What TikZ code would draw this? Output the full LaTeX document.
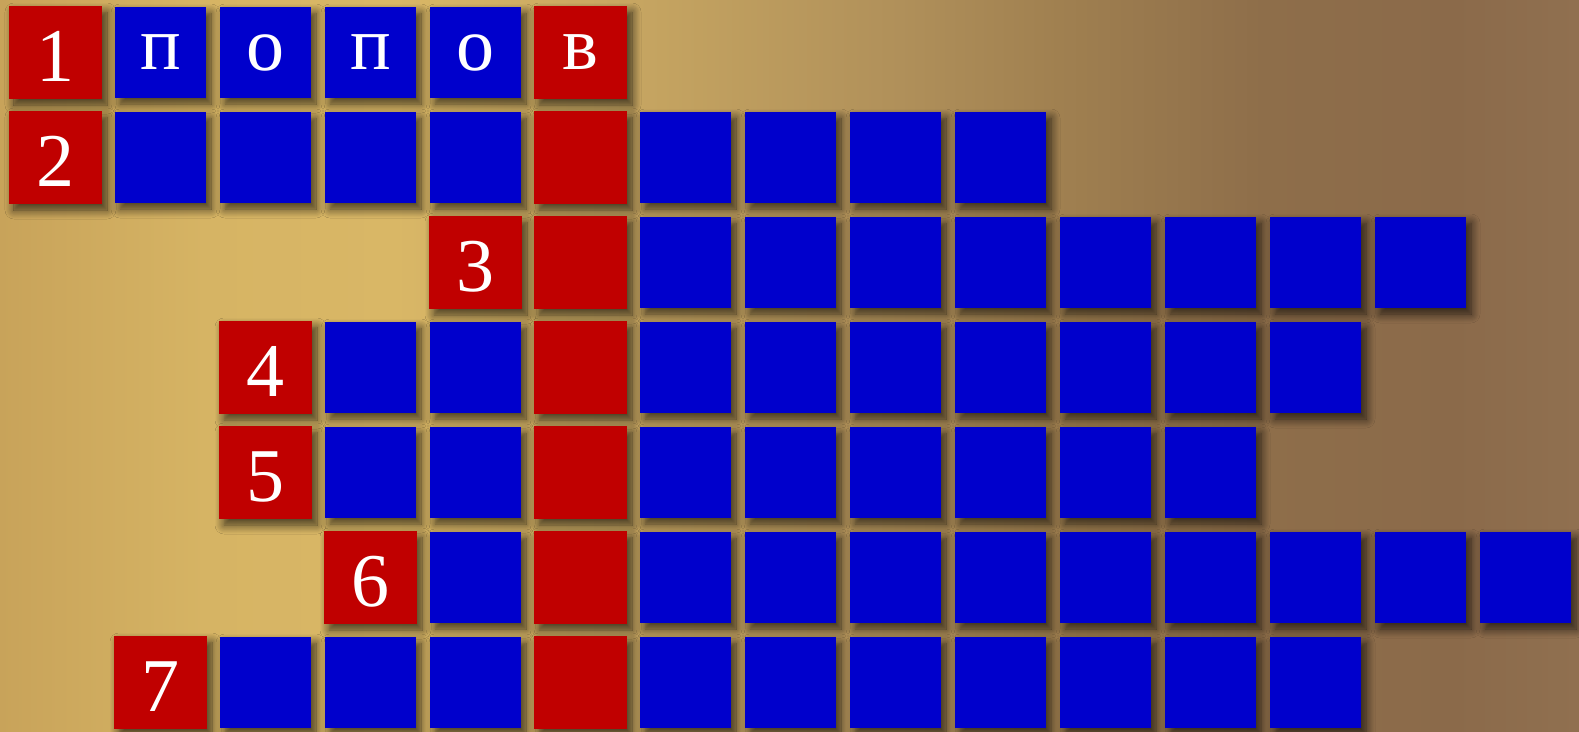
\documentclass[tikz,border=0pt]{standalone}
\usepackage{fontspec}
\setmainfont{Liberation Serif}
\usetikzlibrary{shadows.blur}
\definecolor{cellblue}{HTML}{0000CC}
\definecolor{cellred}{HTML}{C00000}
\definecolor{woodA}{HTML}{C8A35A}
\definecolor{woodB}{HTML}{D6B464}
\definecolor{woodC}{HTML}{D9B766}
\definecolor{woodD}{HTML}{C9A862}
\definecolor{woodE}{HTML}{B0905A}
\definecolor{woodF}{HTML}{A08050}
\definecolor{woodG}{HTML}{8E6E4A}
\definecolor{woodH}{HTML}{8B6A4A}
\definecolor{woodI}{HTML}{907050}
\pgfdeclarehorizontalshading{woodbg}{100bp}{color(0bp)=(woodA); color(25bp)=(woodA);
  color(31.5bp)=(woodB); color(37.5bp)=(woodC); color(44bp)=(woodD); color(53.5bp)=(woodE);
  color(58.5bp)=(woodF); color(65bp)=(woodG); color(71bp)=(woodH); color(75bp)=(woodI);
  color(100bp)=(woodI)}
\tikzset{
  cell/.style      = {minimum size=91pt, inner sep=0pt, text=white,
                      font=\fontsize{76}{76}\selectfont,
                      blur shadow={shadow xshift=5pt, shadow yshift=-6pt,
                        shadow blur radius=9pt, shadow opacity=70, shadow blur steps=10}},
  bluecell/.style  = {cell, fill=cellblue},
  redcell/.style   = {cell, fill=cellred, minimum size=93pt},
  numcell/.style   = {redcell, text height=57pt, text depth=0pt},
  letter/.style    = {inner sep=0pt, text=white, font=\fontsize{76}{76}\selectfont},
}

\begin{document}
\begin{tikzpicture}[x=1pt,y=-1pt]
  \shade[shading=woodbg] (0,0) rectangle (1579,731);
  \useasboundingbox (0,0) rectangle (1579,731);
  % rows: number / first column / last column
  \foreach \r/\s/\e in {1/0/5,2/0/9,3/4/13,4/2/12,5/2/11,6/3/14,7/1/12}{
    \pgfmathtruncatemacro{\first}{\s+1}
    \node[numcell] (n\r) at ({55.5+105*\s},{52.5+105*(\r-1)}) {\r};
    \foreach \c in {\first,...,\e}{
      \ifnum\c=5 \def\kind{redcell}\else\def\kind{bluecell}\fi
      \node[\kind] (c\r-\c) at ({55.5+105*\c},{52.5+105*(\r-1)}) {};
    }
  }
  % the word already filled in
  \node[letter] (l1) at (c1-1) {п};
  \node[letter] (l2) at (c1-2) {о};
  \node[letter] (l3) at (c1-3) {п};
  \node[letter] (l4) at (c1-4) {о};
  \node[letter] (l5) at (c1-5) {в};
\end{tikzpicture}
\end{document}
